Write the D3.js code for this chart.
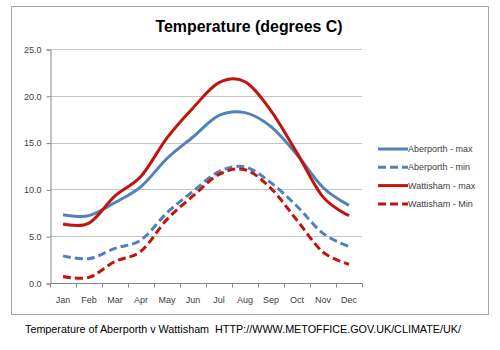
<!DOCTYPE html>
<html>
<head>
<meta charset="utf-8">
<script src="https://cdn.jsdelivr.net/npm/d3@7"></script>
<style>
  body { margin: 0; background: #fff; }
  text { font-family: "Liberation Sans", Arial, sans-serif; }
</style>
</head>
<body>
<div id="vis"></div>
<script>
var months = ["Jan","Feb","Mar","Apr","May","Jun","Jul","Aug","Sep","Oct","Nov","Dec"];
var aberMax = [7.3, 7.2, 8.6, 10.3, 13.3, 15.6, 17.9, 18.2, 16.7, 13.7, 10.2, 8.3];
var aberMin = [2.9, 2.6, 3.7, 4.6, 7.5, 9.8, 11.9, 12.4, 10.7, 8.2, 5.3, 3.9];
var wattMax = [6.3, 6.4, 9.3, 11.4, 15.5, 18.7, 21.4, 21.5, 18.4, 13.9, 9.2, 7.2];
var wattMin = [0.7, 0.6, 2.3, 3.4, 6.8, 9.3, 11.6, 12.1, 10.1, 6.7, 3.3, 2.0];
var yTicks = [0, 5, 10, 15, 20, 25];

var seriesNames = ["Aberporth - max", "Aberporth - min", "Wattisham - max", "Wattisham - Min"];
var seriesValues = [aberMax, aberMin, wattMax, wattMin];
var blue = "#4f81bd", red = "#c0140c";

var width = 500, height = 350;
var plotLeft = 50, plotRight = 362, plotTop = 49, plotBottom = 283;

var svg = d3.select("#vis").append("svg")
    .attr("width", width)
    .attr("height", height);

// outer chart frame
svg.append("rect")
    .attr("x", 11.5).attr("y", 6.5)
    .attr("width", 477).attr("height", 308)
    .attr("fill", "#fff")
    .attr("stroke", "#a6a6a6")
    .attr("stroke-width", 1);

var x = d3.scaleBand().domain(months).range([plotLeft, plotRight]).paddingInner(0).paddingOuter(0);
var y = d3.scaleLinear().domain([0, 25]).range([plotBottom, plotTop]);

// gridlines
svg.append("g").selectAll("line")
    .data(yTicks.filter(function(d) { return d > 0; }))
    .enter().append("line")
    .attr("x1", plotLeft).attr("x2", plotRight)
    .attr("y1", function(d) { return Math.round(y(d)) + 0.5; })
    .attr("y2", function(d) { return Math.round(y(d)) + 0.5; })
    .attr("stroke", "#c4c4c4");

// y axis
var yAxis = svg.append("g")
    .attr("transform", "translate(" + (plotLeft + 0.5) + ",0.5)")
    .call(d3.axisLeft(y).tickValues(yTicks).tickFormat(d3.format(".1f")).tickSize(4).tickPadding(5));
yAxis.select(".domain").attr("stroke", "#868686");
yAxis.selectAll(".tick line").attr("stroke", "#868686");
yAxis.selectAll("text").attr("fill", "#404040").style("font-size", "9px");

// x axis, ticks between categories
var xAxis = svg.append("g").attr("transform", "translate(0," + (plotBottom + 0.5) + ")");
xAxis.append("line").attr("x1", plotLeft).attr("x2", plotRight).attr("stroke", "#868686");
xAxis.selectAll("line.tk")
    .data(months.concat(["end"]))
    .enter().append("line")
    .attr("class", "tk")
    .attr("x1", function(d, i) { return Math.round(plotLeft + i * x.bandwidth()) + 0.5; })
    .attr("x2", function(d, i) { return Math.round(plotLeft + i * x.bandwidth()) + 0.5; })
    .attr("y1", 0).attr("y2", 4)
    .attr("stroke", "#868686");
xAxis.selectAll("text")
    .data(months)
    .enter().append("text")
    .attr("x", function(d) { return x(d) + x.bandwidth() / 2; })
    .attr("y", 19)
    .attr("text-anchor", "middle")
    .attr("fill", "#404040")
    .style("font-size", "9px")
    .text(function(d) { return d; });

// lines
var line = d3.line()
    .x(function(d, i) { return x(months[i]) + x.bandwidth() / 2; })
    .y(function(d) { return y(d); })
    .curve(d3.curveCatmullRom.alpha(0));

var colors = [blue, blue, red, red];
var dashed = [false, true, false, true];

svg.append("g").selectAll("path")
    .data(seriesValues)
    .enter().append("path")
    .attr("d", line)
    .attr("fill", "none")
    .attr("stroke", function(d, i) { return colors[i]; })
    .attr("stroke-width", 3)
    .attr("stroke-dasharray", function(d, i) { return dashed[i] ? "8,4" : null; });

// legend
var legend = svg.append("g").selectAll("g")
    .data(seriesNames)
    .enter().append("g")
    .attr("transform", function(d, i) { return "translate(378," + (149 + i * 18.3) + ")"; });
legend.append("line")
    .attr("x1", 0).attr("x2", 30)
    .attr("stroke", function(d, i) { return colors[i]; })
    .attr("stroke-width", 3)
    .attr("stroke-dasharray", function(d, i) { return dashed[i] ? "8,4" : null; });
legend.append("text")
    .attr("x", 30).attr("y", 3)
    .attr("fill", "#404040")
    .style("font-size", "9px")
    .text(function(d) { return d; });

// title
svg.append("text")
    .attr("x", 249).attr("y", 32)
    .attr("text-anchor", "middle")
    .style("font-size", "16px")
    .style("font-weight", "bold")
    .attr("textLength", 187)
    .attr("lengthAdjust", "spacingAndGlyphs")
    .text("Temperature (degrees C)");

// caption
svg.append("text")
    .attr("x", 25).attr("y", 333)
    .style("font-size", "11.5px")
    .style("white-space", "pre")
    .attr("fill", "#000")
    .attr("textLength", 436)
    .attr("lengthAdjust", "spacingAndGlyphs")
    .text("Temperature of Aberporth v Wattisham  HTTP://WWW.METOFFICE.GOV.UK/CLIMATE/UK/");
</script>
</body>
</html>
